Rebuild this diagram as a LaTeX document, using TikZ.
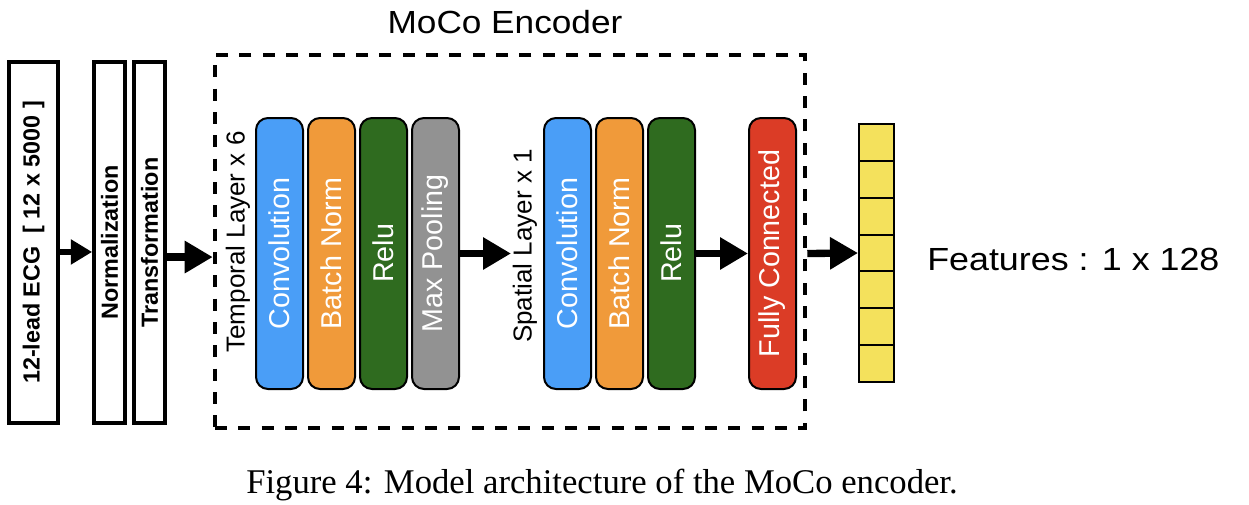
\documentclass[tikz,border=0pt]{standalone}
\usepackage{fontspec}
\setmainfont{Liberation Serif}
\newfontfamily\hv{Liberation Sans}
\usetikzlibrary{arrows.meta}
\definecolor{convblue}{HTML}{4A9EF7}
\definecolor{bnorange}{HTML}{F09A3A}
\definecolor{relugreen}{HTML}{2F6B1F}
\definecolor{poolgray}{HTML}{929292}
\definecolor{fcred}{HTML}{DB3C26}
\definecolor{featyellow}{HTML}{F4E15C}
\begin{document}
\begin{tikzpicture}[x=0.75pt,y=-0.75pt,
  plainbox/.style={draw=black, line width=2.8pt, minimum height=270.75pt, inner sep=0pt,
    font=\hv\bfseries\fontsize{17.5}{20}\selectfont},
  layerbox/.style={draw=black, line width=1.5pt, rounded corners=9pt, minimum width=35.25pt,
    minimum height=203.25pt, inner sep=0pt, text=white, font=\hv\fontsize{21.5}{24}\selectfont},
  layerlabel/.style={inner sep=0pt, font=\hv\fontsize{19.5}{22}\selectfont},
  bigtext/.style={inner sep=0pt, font=\hv\fontsize{24}{28}\selectfont},
  cell/.style={draw=black, line width=1.5pt, fill=featyellow, minimum width=26.25pt,
    minimum height=27.64pt, inner sep=0pt},
  encbox/.style={draw=black, line width=3.4pt, dash pattern=on 9pt off 8.5pt, inner sep=0pt},
  arr/.style={-{Triangle[length=21pt,width=23pt]}, line width=5.5pt},
  arrsmall/.style={-{Triangle[length=16pt,width=18pt]}, line width=5pt}]
\useasboundingbox (0,0) rectangle (1249,504);

% input boxes
\node[plainbox, minimum width=36.75pt] (ecg) at (33.5,242.5) {\rotatebox{90}{12-lead ECG\ \ [ 12 x 5000 ]}};
\node[plainbox, minimum width=23.25pt] (norm) at (109.5,242.5) {\rotatebox{90}{Normalization}};
\node[plainbox, minimum width=23.25pt] (trans) at (149.5,242.5) {\rotatebox{90}{Transformation}};

% encoder frame and title
\node[encbox, minimum width=442.5pt, minimum height=279.75pt] (enc) at (510,241.5) {};
\node[bigtext, anchor=base] (title) at (505,33) {\scalebox{1.1}[1]{MoCo Encoder}};

% temporal layer
\node[layerlabel] (temp) at (238,242) {\rotatebox{90}{Temporal Layer x 6}};
\node[layerbox, fill=convblue] (conv1) at (279.5,253.5) {\rotatebox{90}{Convolution}};
\node[layerbox, fill=bnorange] (bn1) at (331.5,253.5) {\rotatebox{90}{Batch Norm}};
\node[layerbox, fill=relugreen] (relu1) at (383.5,253.5) {\rotatebox{90}{Relu}};
\node[layerbox, fill=poolgray] (maxp) at (435.5,253.5) {\rotatebox{90}{Max Pooling}};

% spatial layer
\node[layerlabel] (spat) at (525,246) {\rotatebox{90}{Spatial Layer x 1}};
\node[layerbox, fill=convblue] (conv2) at (567.5,253.5) {\rotatebox{90}{Convolution}};
\node[layerbox, fill=bnorange] (bn2) at (619.5,253.5) {\rotatebox{90}{Batch Norm}};
\node[layerbox, fill=relugreen] (relu2) at (671.5,253.5) {\rotatebox{90}{Relu}};

% fully connected
\node[layerbox, fill=fcred] (fc) at (772.5,253.5) {\rotatebox{90}{Fully Connected}};

% feature vector
\foreach \i in {1,...,7}
  \node[cell] (c\i) at (876.5,{124+36.857*(\i-0.5)}) {};
\node[bigtext, anchor=base west] (feat) at (927,270) {\scalebox{1.12}[1]{Features : 1 x 128}};

% arrows
\coordinate (a3) at (511,253.5);
\draw[arrsmall] ([yshift=-7.1pt]ecg.east) -- ([yshift=-7.1pt]norm.west);
\draw[arr] ([yshift=-10.9pt]trans.east) coordinate (a2s) -- (a2s -| enc.west);
\draw[arr] (maxp.east) -- (a3);
\draw[arr] (relu2.east) -- (fc.west);
\draw[arr] (enc.east |- fc.east) -- (c4.west);

% caption
\node[anchor=base, inner sep=0pt, font=\fontsize{26}{30}\selectfont] (cap) at (602,493) {Figure 4: Model architecture of the MoCo encoder.};
\end{tikzpicture}
\end{document}
